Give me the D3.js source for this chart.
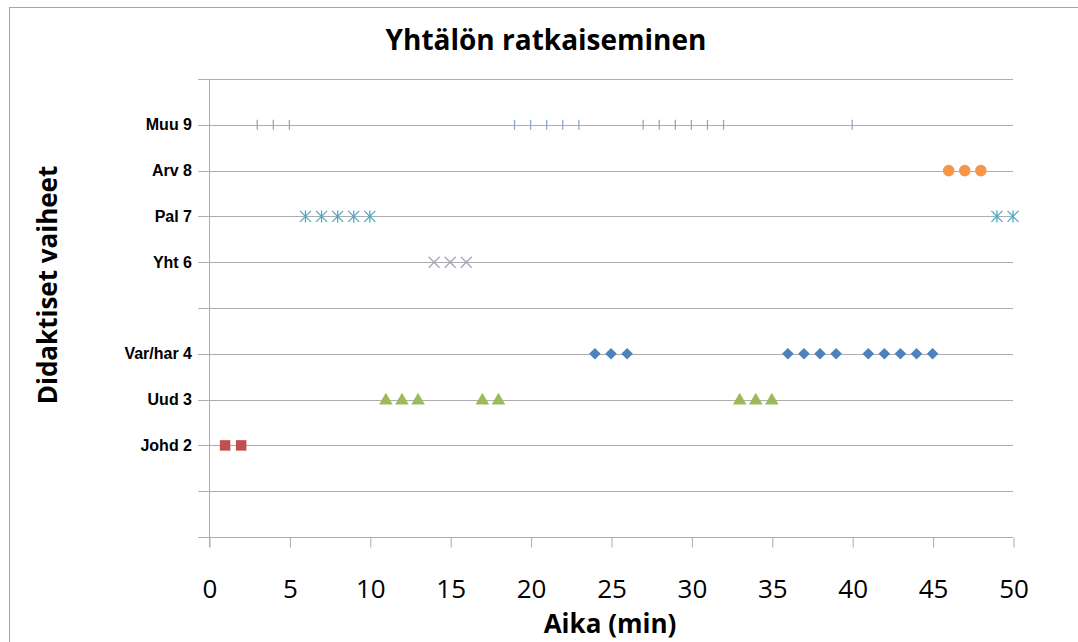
<!DOCTYPE html>
<html>
<head>
<meta charset="utf-8">
<script src="https://cdn.jsdelivr.net/npm/d3@7"></script>
<style>
  html, body { margin: 0; padding: 0; background: #fff; }
  svg { display: block; }
</style>
</head>
<body>
<svg id="chart" width="1078" height="642"></svg>
<script>
// Phase levels on the y axis (value -> label)
const yTickValues = [0, 1, 2, 3, 4, 5, 6, 7, 8, 9, 10];
const yTickLabels = ["", "", "Johd 2", "Uud 3", "Var/har 4", "", "Yht 6", "Pal 7", "Arv 8", "Muu 9", ""];
const xTickValues = [0, 5, 10, 15, 20, 25, 30, 35, 40, 45, 50];

// Minutes at which each didactic phase occurs
const johd2 = [1, 2];
const uud3 = [11, 12, 13, 17, 18, 33, 34, 35];
const varhar4 = [24, 25, 26, 36, 37, 38, 39, 41, 42, 43, 44, 45];
const yht6 = [14, 15, 16];
const pal7 = [6, 7, 8, 9, 10, 49, 50];
const arv8 = [46, 47, 48];
const muu9 = [3, 4, 5, 19, 20, 21, 22, 23, 27, 28, 29, 30, 31, 32, 40];

const series = [
  { level: 2, times: johd2, shape: "square", color: "#C0504D" },
  { level: 3, times: uud3, shape: "triangle", color: "#9BBB59" },
  { level: 4, times: varhar4, shape: "diamond", color: "#4F81BD" },
  { level: 6, times: yht6, shape: "cross", color: "#A6A3C0" },
  { level: 7, times: pal7, shape: "star", color: "#4BACC6" },
  { level: 8, times: arv8, shape: "circle", color: "#F79646" },
  { level: 9, times: muu9, shape: "dash", color: "#8FA8C6" }
];

const svg = d3.select("#chart");
const plot = { left: 209, right: 1013, top: 79, bottom: 537 };

const x = d3.scaleLinear().domain([0, 50]).range([plot.left, plot.right]);
const y = d3.scaleLinear().domain([0, 10]).range([plot.bottom, plot.top]);

// Outer chart frame
svg.append("rect")
  .attr("x", 9.5).attr("y", 7.5)
  .attr("width", 1100).attr("height", 700)
  .attr("fill", "none").attr("stroke", "#A6A6A6").attr("stroke-width", 1);

// Horizontal gridlines with short outside ticks
const gridColor = "#ADADAD";
svg.append("g")
  .selectAll("line")
  .data(yTickValues)
  .join("line")
  .attr("x1", plot.left - 11).attr("x2", plot.right)
  .attr("y1", d => Math.round(y(d)) + 0.5).attr("y2", d => Math.round(y(d)) + 0.5)
  .attr("stroke", gridColor).attr("stroke-width", 1);

// Vertical axis line
svg.append("line")
  .attr("x1", plot.left + 0.5).attr("x2", plot.left + 0.5)
  .attr("y1", plot.top).attr("y2", plot.bottom + 10)
  .attr("stroke", gridColor).attr("stroke-width", 1);

// X axis tick marks and labels
const xAxis = d3.axisBottom(x).tickValues(xTickValues).tickSize(10).tickPadding(32);
const gx = svg.append("g")
  .attr("transform", `translate(0.5,${Math.round(y(0)) + 0.5})`)
  .call(xAxis);
gx.select(".domain").remove();
gx.selectAll(".tick line").attr("stroke", gridColor);
gx.selectAll(".tick text")
  .attr("fill", "#000")
  .style("font-family", "'Open Sans', 'DejaVu Sans', sans-serif")
  .style("font-size", "26px");

// Y axis category labels
svg.append("g")
  .selectAll("text")
  .data(yTickValues)
  .join("text")
  .attr("x", plot.left - 17)
  .attr("y", d => y(d))
  .attr("dy", "0.35em")
  .attr("text-anchor", "end")
  .style("font-family", "'Liberation Sans', Arial, sans-serif")
  .style("font-weight", "bold")
  .style("font-size", "16px")
  .text((d, i) => yTickLabels[i]);

// Markers
const symbolPath = {
  square: d3.symbol().type(d3.symbolSquare).size(110)(),
  triangle: d3.symbol().type(d3.symbolTriangle).size(80)(),
  diamond: "M0,-5.8L5.8,0L0,5.8L-5.8,0Z",
  circle: d3.symbol().type(d3.symbolCircle).size(105)()
};

series.forEach(s => {
  const g = svg.append("g");
  const pts = g.selectAll("g.pt")
    .data(s.times)
    .join("g")
    .attr("class", "pt")
    .attr("transform", t => `translate(${x(t)},${y(s.level)})`);

  if (symbolPath[s.shape]) {
    pts.append("path")
      .attr("d", symbolPath[s.shape])
      .attr("fill", s.color)
      .attr("transform", s.shape === "triangle" ? "translate(0,1)" : null);
  } else if (s.shape === "cross") {
    const r = 5.5;
    pts.append("path")
      .attr("d", `M${-r},${-r}L${r},${r}M${-r},${r}L${r},${-r}`)
      .attr("stroke", s.color).attr("stroke-width", 1.3).attr("fill", "none");
  } else if (s.shape === "star") {
    const r = 5.5;
    pts.append("path")
      .attr("d", `M${-r},${-r}L${r},${r}M${-r},${r}L${r},${-r}M0,${-r - 0.5}L0,${r + 0.5}`)
      .attr("stroke", s.color).attr("stroke-width", 1.3).attr("fill", "none");
  } else if (s.shape === "dash") {
    pts.append("path")
      .attr("d", "M0,-5L0,5")
      .attr("stroke", s.color).attr("stroke-width", 1.3).attr("fill", "none");
  }
});

// Title
svg.append("text")
  .attr("x", 546).attr("y", 50)
  .attr("text-anchor", "middle")
  .style("font-family", "'Open Sans', 'DejaVu Sans', sans-serif")
  .style("font-weight", "bold")
  .style("font-size", "28px")
  .text("Yhtälön ratkaiseminen");

// Axis titles
svg.append("text")
  .attr("x", 610).attr("y", 633)
  .attr("text-anchor", "middle")
  .style("font-family", "'Open Sans', 'DejaVu Sans', sans-serif")
  .style("font-weight", "bold")
  .style("font-size", "26px")
  .text("Aika (min)");

svg.append("text")
  .attr("transform", "translate(57,285) rotate(-90)")
  .attr("text-anchor", "middle")
  .style("font-family", "'Open Sans', 'DejaVu Sans', sans-serif")
  .style("font-weight", "bold")
  .style("font-size", "26px")
  .text("Didaktiset vaiheet");
</script>
</body>
</html>
